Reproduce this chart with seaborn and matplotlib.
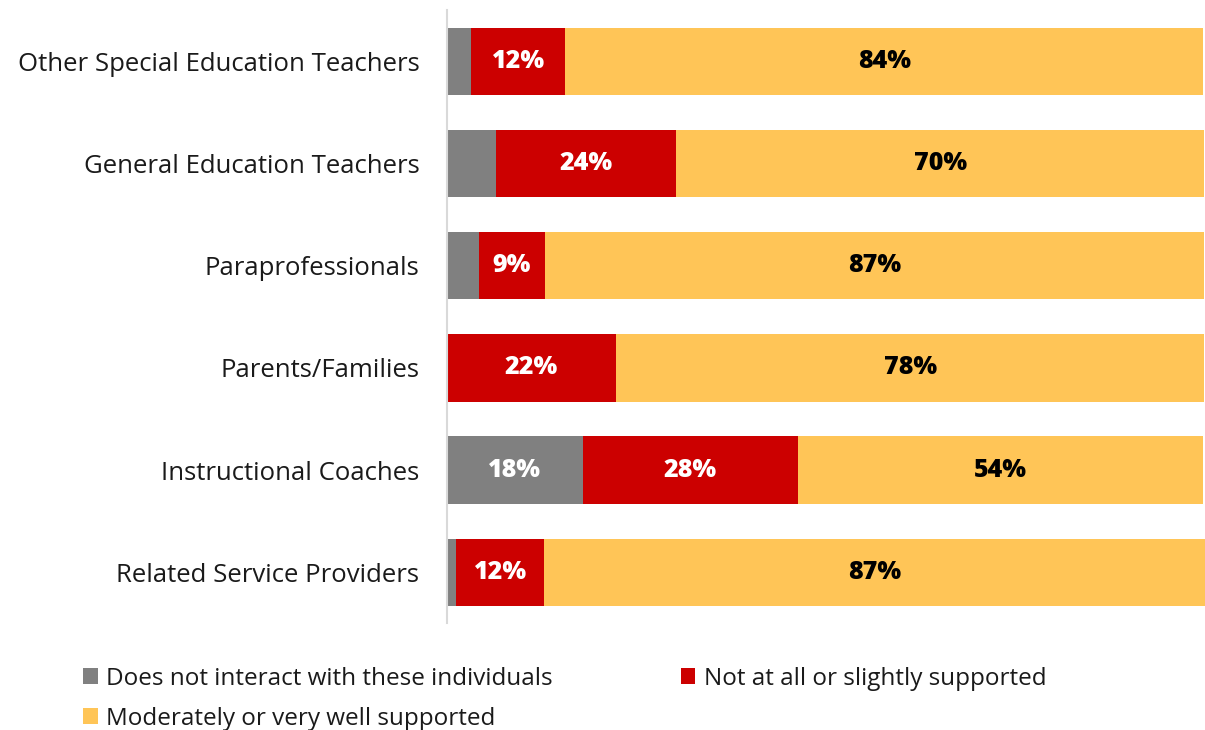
import numpy as np
import pandas as pd
import matplotlib.pyplot as plt
import seaborn as sns
from matplotlib.patches import Patch

# данні з графіка (відсотки, зчитані з ширини сегментів)
groups = ['Other Special Education Teachers', 'General Education Teachers', 'Paraprofessionals',
          'Parents/Families', 'Instructional Coaches', 'Related Service Providers']
no_interact = [3.2, 6.4, 4.2, 0.0, 17.9, 1.2]
not_supported = [12.4, 23.9, 8.7, 22.3, 28.4, 11.6]
well_supported = [84.3, 69.7, 87.1, 77.7, 53.6, 87.3]

series_names = ['Does not interact with these individuals', 'Not at all or slightly supported',
                'Moderately or very well supported']
colors = ['#808080', '#CC0000', '#FFC557']
text_colors = ['white', 'white', 'black']

sns.set_style('white')
plt.rcParams['font.family'] = ['Open Sans', 'DejaVu Sans']

df = pd.DataFrame({'group': groups, 'a': no_interact, 'b': not_supported, 'c': well_supported})
df['ab'] = df['a'] + df['b']
df['abc'] = df['ab'] + df['c']

fig = plt.figure(figsize=(12.05, 7.3), dpi=100)
ax = fig.add_axes([0.371, 0.146, 0.629, 0.84])

# накладаємо кумулятивні суми, від найдовшої до найкоротшої
sns.barplot(data=df, y='group', x='abc', color=colors[2], width=0.66, saturation=1, ax=ax)
sns.barplot(data=df, y='group', x='ab', color=colors[1], width=0.66, saturation=1, ax=ax)
sns.barplot(data=df, y='group', x='a', color=colors[0], width=0.66, saturation=1, ax=ax)
for p in ax.patches:
    p.set_linewidth(0)

# підписи значень (маленькі сегменти без підпису)
for i, row in df.iterrows():
    starts = [0, row['a'], row['ab']]
    vals = [row['a'], row['b'], row['c']]
    for s, v, tc in zip(starts, vals, text_colors):
        if v >= 8:
            ax.text(s + v / 2, i, f'{v:.0f}%', ha='center', va='center', color=tc,
                    fontsize=18, fontweight='heavy')

ax.set_xlim(0, df['abc'].max())
ax.set_xlabel('')
ax.set_ylabel('')
ax.set_xticks([])
ax.tick_params(axis='y', length=0, labelsize=18.5, pad=20, labelcolor='#1a1a1a')
for s in ['top', 'right', 'bottom']:
    ax.spines[s].set_visible(False)
ax.spines['left'].set_color('#D9D9D9')
ax.spines['left'].set_linewidth(1.5)

# легенда: порядок так, щоб рядки йшли як в оригіналі
order = [0, 2, 1]
handles = [Patch(facecolor=colors[k], edgecolor='none') for k in order]
labels = [series_names[k] for k in order]
fig.legend(handles, labels, loc='upper left', bbox_to_anchor=(0.061, 0.1), ncol=2,
           frameon=False, fontsize=17.5, handlelength=0.6, handleheight=0.6,
           handletextpad=0.35, columnspacing=5.25, labelspacing=0.65, borderaxespad=0,
           labelcolor='#1a1a1a')

fig.savefig('out.png', dpi=100)
